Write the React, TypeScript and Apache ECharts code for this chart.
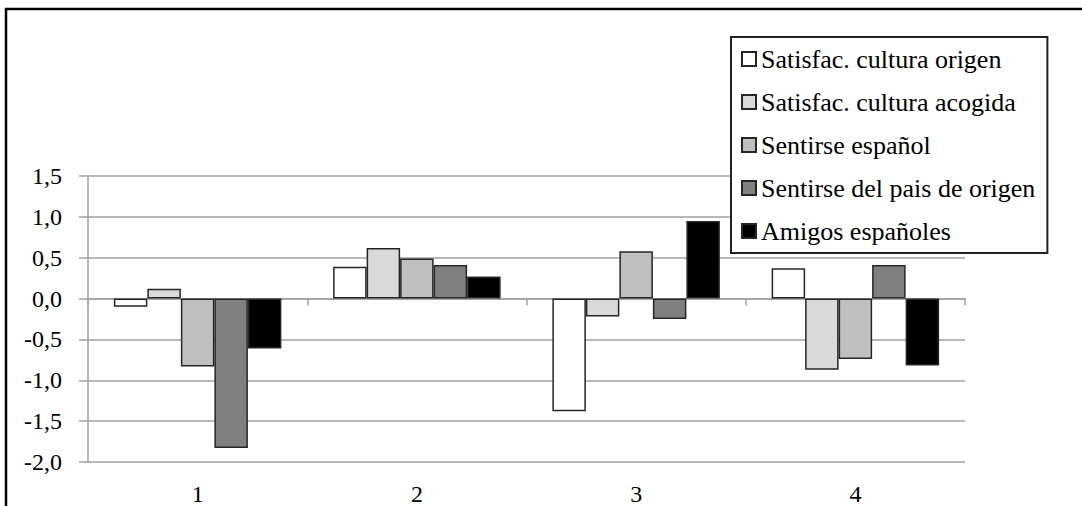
import React, { useEffect, useRef } from "react";
import * as echarts from "echarts";

const categories = ["1", "2", "3", "4"];
const seriesNames = [
  "Satisfac. cultura origen",
  "Satisfac. cultura acogida",
  "Sentirse español",
  "Sentirse del pais de origen",
  "Amigos españoles",
];
const satisfacOrigen = [-0.1, 0.39, -1.38, 0.37];
const satisfacAcogida = [0.12, 0.62, -0.22, -0.87];
const sentirseEspanol = [-0.83, 0.49, 0.58, -0.74];
const sentirsePais = [-1.83, 0.41, -0.25, 0.41];
const amigosEspanoles = [-0.61, 0.27, 0.95, -0.82];
const seriesColors = ["#ffffff", "#d9d9d9", "#bfbfbf", "#808080", "#000000"];
const yTicks = { min: -2, max: 1.5, interval: 0.5 };

const FONT = "Liberation Serif";

export default function App() {
  const ref = useRef<HTMLDivElement>(null);
  useEffect(() => {
    if (!ref.current) return;
    const chart = echarts.init(ref.current, undefined, { renderer: "svg" });
    const values = [satisfacOrigen, satisfacAcogida, sentirseEspanol, sentirsePais, amigosEspanoles];
    chart.setOption({
      animation: false,
      backgroundColor: "#ffffff",
      grid: { left: 88, right: 117, top: 176, bottom: 43, containLabel: false },
      legend: {
        orient: "vertical",
        left: 731,
        top: 37,
        padding: [7, 12, 7, 10],
        itemGap: 13,
        itemWidth: 14,
        itemHeight: 14,
        icon: "rect",
        backgroundColor: "#ffffff",
        borderColor: "#222222",
        borderWidth: 2,
        borderRadius: 0,
        textStyle: { fontFamily: FONT, fontSize: 26, color: "#000", lineHeight: 30 },
        data: seriesNames,
      },
      xAxis: [
        {
          type: "category",
          data: categories,
          position: "bottom",
          axisLine: { show: false, onZero: false },
          axisTick: { show: false },
          axisLabel: { fontFamily: FONT, fontSize: 24, color: "#000", margin: 20 },
          splitLine: { show: false },
        },
        {
          type: "category",
          data: categories,
          position: "top",
          axisLine: { show: true, onZero: true, lineStyle: { color: "#a0a0a0", width: 1.5 } },
          axisTick: { show: true, inside: true, length: 7, lineStyle: { color: "#a0a0a0", width: 1.5 } },
          axisLabel: { show: false },
          splitLine: { show: false },
          z: 1,
        },
      ],
      yAxis: {
        type: "value",
        min: yTicks.min,
        max: yTicks.max,
        interval: yTicks.interval,
        axisLine: { show: true, lineStyle: { color: "#a0a0a0", width: 1.5 } },
        axisTick: { show: true, length: 9, lineStyle: { color: "#a0a0a0", width: 1.5 } },
        axisLabel: {
          fontFamily: FONT,
          fontSize: 24,
          color: "#000",
          margin: 26,
          formatter: (v: number) => v.toFixed(1).replace(".", ","),
        },
        splitLine: { show: true, lineStyle: { color: "#a0a0a0", width: 1.5 } },
      },
      graphic: [
        {
          type: "rect",
          shape: { x: 6, y: 9, width: 1120, height: 560 },
          style: { fill: "none", stroke: "#000", lineWidth: 2.5 },
          silent: true,
          z: 100,
        },
      ],
      series: seriesNames.map((name, i) => ({
        name,
        type: "bar",
        xAxisIndex: 0,
        data: values[i],
        barGap: "0%",
        barCategoryGap: "23.6%",
        z: 3,
        itemStyle: { color: seriesColors[i], borderColor: "#262626", borderWidth: 1.5 },
      })),
    });
    return () => chart.dispose();
  }, []);
  return (
    <div
      ref={ref}
      style={{ position: "fixed", left: 0, top: 0, width: 1082, height: 506 }}
    />
  );
}
